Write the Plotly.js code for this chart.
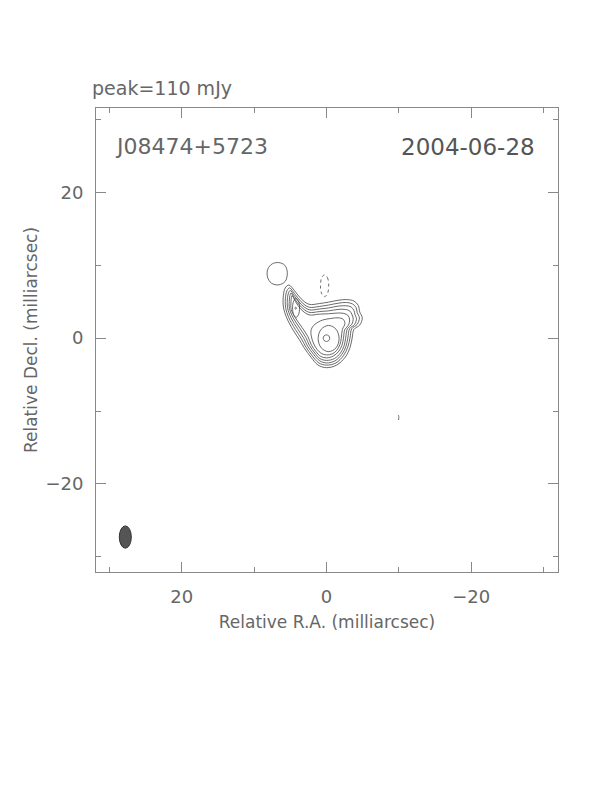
<!DOCTYPE html>
<html>
<head>
<meta charset="utf-8">
<script src="https://cdn.plot.ly/plotly-3.0.1.min.js"></script>
<style>html,body{margin:0;padding:0;background:#fff;}#chart{width:612px;height:792px;}</style>
</head>
<body>
<div id="chart"></div>
<script>
// Source / epoch / peak
const sourceName = "J08474+5723";
const epoch = "2004-06-28";
const peakLabel = "peak=110 mJy";

// Axis ticks (mas)
const xMajor = [20, 0, -20];
const xMinor = [30, 10, -10, -30];
const yMajor = [20, 0, -20];
const yMinor = [30, 10, -10, -30];

const lev1X = [5.2,4.4,3.5,2.4,1.0,-0.3,-1.6,-2.8,-3.8,-4.4,-4.6,-4.95,-4.6,-3.8,-3.55,-3.25,-2.6,-1.4,0.0,1.15,2.15,3.1,3.75,4.6,5.5,5.95,5.95,5.7,5.2];
const lev1Y = [7.3,6.5,5.4,4.65,4.75,4.95,5.2,5.3,5.1,4.5,3.6,2.8,1.8,1.2,0.0,-1.3,-2.6,-3.7,-4.05,-3.7,-2.6,-1.3,-0.2,1.1,2.8,4.3,5.9,6.9,7.3];

const lev2X = [5.1,4.4,3.5,2.4,1.0,-0.3,-1.6,-2.8,-3.6,-4.1,-4.25,-4.55,-4.25,-3.5,-3.25,-2.95,-2.35,-1.3,0.0,1.05,1.95,2.85,3.45,4.3,5.2,5.65,5.65,5.45,5.1];
const lev2Y = [6.9,6.1,5.0,4.25,4.35,4.55,4.8,4.9,4.7,4.2,3.5,2.8,1.9,1.3,0.0,-1.2,-2.4,-3.4,-3.7,-3.4,-2.45,-1.2,-0.1,1.2,2.8,4.25,5.75,6.55,6.9];

const lev3X = [5.0,4.4,3.5,2.4,1.0,-0.3,-1.6,-2.7,-3.4,-3.8,-3.95,-4.15,-3.9,-3.2,-2.95,-2.7,-2.15,-1.2,0.0,0.95,1.75,2.6,3.15,4.0,4.9,5.38,5.38,5.25,5.0];
const lev3Y = [6.55,5.75,4.65,3.9,4.0,4.15,4.4,4.45,4.3,3.8,3.2,2.7,1.9,1.3,0.0,-1.1,-2.2,-3.1,-3.4,-3.1,-2.25,-1.1,0.0,1.3,2.8,4.2,5.55,6.2,6.55];

const lev4X = [4.9,4.4,3.5,2.4,1.0,-0.3,-1.6,-2.6,-3.2,-3.55,-3.7,-3.5,-2.9,-2.65,-2.45,-1.95,-1.1,0.0,0.9,1.6,2.35,2.85,3.7,4.6,5.12,5.12,5.05,4.9];
const lev4Y = [6.2,5.4,4.3,3.55,3.65,3.75,3.95,3.95,3.75,3.2,2.6,1.9,1.3,0.0,-1.0,-2.0,-2.8,-3.05,-2.8,-2.05,-1.0,0.1,1.4,2.8,4.1,5.3,5.85,6.2];

const lev5X = [4.75,4.3,3.5,2.4,1.0,-0.3,-1.5,-2.4,-3.0,-3.2,-3.05,-2.55,-2.35,-2.15,-1.7,-0.95,0.0,0.8,1.45,2.1,2.55,3.4,4.3,4.88,4.9,4.85,4.75];
const lev5Y = [5.85,5.05,3.95,3.2,3.3,3.35,3.45,3.4,3.1,2.5,1.8,1.2,0.0,-0.95,-1.8,-2.45,-2.7,-2.5,-1.85,-0.9,0.2,1.5,2.8,3.95,5.05,5.55,5.85];

// Inner levels, north-east component
const lev6aX = [4.2,3.86,3.72,3.86,4.2,4.54,4.68,4.54,4.2];
const lev6aY = [5.45,5.07,4.15,3.23,2.85,3.23,4.15,5.07,5.45];
const lev7aX = [4.25,4.14,4.25,4.36,4.25];
const lev7aY = [4.26,4.12,3.98,4.12,4.26];

// Inner levels, core
const lev6bX = [1.6,0.5,-0.6,-1.6,-2.3,-2.55,-2.2,-2.05,-1.85,-1.4,-0.8,0.0,0.7,1.25,1.75,2.1,2.1,1.6];
const lev6bY = [1.9,2.5,2.7,2.8,2.6,2.0,1.2,0.0,-0.9,-1.7,-2.15,-2.3,-2.1,-1.6,-0.8,0.3,1.2,1.9];
const lev7bX = [-0.3,0.73,1.15,0.73,-0.3,-1.33,-1.75,-1.33,-0.3];
const lev7bY = [1.75,1.22,-0.05,-1.32,-1.85,-1.32,-0.05,1.22,1.75];
const lev8bX = [0.0,0.32,0.45,0.32,0.0,-0.32,-0.45,-0.32,0.0];
const lev8bY = [0.45,0.32,0.0,-0.32,-0.45,-0.32,0.0,0.32,0.45];

// Isolated positive island to the north-east
const islandX = [6.6,5.75,5.41,5.7,6.6,7.6,8.15,8.1,7.5,6.6];
const islandY = [10.38,10.0,9.0,7.8,7.32,7.55,8.4,9.5,10.2,10.38];

// Negative contours (dashed)
const negAX = [0.26,-0.14,-0.31,-0.14,0.26,0.66,0.83,0.66,0.26];
const negAY = [8.7,8.3,7.2,6.1,5.7,6.1,7.2,8.3,8.7];
const negBX = [-9.96,-10.0,-9.96,-9.92,-9.96];
const negBY = [-10.6,-10.9,-11.2,-10.9,-10.6];

// Restoring beam (centre x, centre y, half-width x, half-height y) in mas
const beamCenter = [27.8, -27.3];
const beamHalf = [0.83, 1.53];

const contourColor = "#444";
const posSets = [
  [lev1X, lev1Y], [lev2X, lev2Y], [lev3X, lev3Y], [lev4X, lev4Y], [lev5X, lev5Y],
  [lev6aX, lev6aY], [lev7aX, lev7aY], [lev6bX, lev6bY], [lev7bX, lev7bY], [lev8bX, lev8bY],
  [islandX, islandY]
];
const traces = posSets.map(function (s) {
  return {x: s[0], y: s[1], type: "scatter", mode: "lines", hoverinfo: "skip",
          line: {color: contourColor, width: 0.8, shape: "spline", smoothing: 1}, showlegend: false};
});
[[negAX, negAY], [negBX, negBY]].forEach(function (s) {
  traces.push({x: s[0], y: s[1], type: "scatter", mode: "lines", hoverinfo: "skip",
    line: {color: contourColor, width: 0.8, dash: "dot", shape: "spline", smoothing: 1}, showlegend: false});
});

const font = "DejaVu Sans, sans-serif";
const txt = "#666";
const axisCommon = {
  showgrid: false, zeroline: false, showline: true, linecolor: "#888", linewidth: 1,
  mirror: "ticks", ticks: "inside", ticklen: 10, tickcolor: "#888", tickwidth: 1,
  tickfont: {family: font, size: 18, color: txt}, ticklabelstandoff: 8
};

const layout = {
  width: 612, height: 792,
  margin: {l: 95.5, r: 53.7, t: 108.3, b: 220},
  paper_bgcolor: "#fff", plot_bgcolor: "#fff",
  showlegend: false,
  xaxis: Object.assign({}, axisCommon, {
    range: [31.85, -32.0], tickmode: "array", tickvals: xMajor,
    minor: {tickvals: xMinor, ticks: "inside", ticklen: 5, tickcolor: "#888", showgrid: false},
    title: {text: "Relative R.A. (milliarcsec)", font: {family: font, size: 17, color: txt}, standoff: 10}
  }),
  yaxis: Object.assign({}, axisCommon, {
    range: [-32.1, 31.6], tickmode: "array", tickvals: yMajor,
    minor: {tickvals: yMinor, ticks: "inside", ticklen: 5, tickcolor: "#888", showgrid: false},
    title: {text: "Relative Decl. (milliarcsec)", font: {family: font, size: 17, color: txt}, standoff: 3}
  }),
  shapes: [{
    type: "circle", xref: "x", yref: "y",
    x0: beamCenter[0] - beamHalf[0], x1: beamCenter[0] + beamHalf[0],
    y0: beamCenter[1] - beamHalf[1], y1: beamCenter[1] + beamHalf[1],
    fillcolor: "#555", line: {color: "#333", width: 1}
  }],
  annotations: [
    {text: peakLabel, xref: "paper", yref: "paper", x: -0.012, y: 1.044, xanchor: "left", yanchor: "middle",
     showarrow: false, font: {family: font, size: 19, color: txt}},
    {text: sourceName, xref: "paper", yref: "paper", x: 0.036, y: 0.9165, xanchor: "left", yanchor: "middle",
     showarrow: false, font: {family: font, size: 22, color: txt}},
    {text: epoch, xref: "paper", yref: "paper", x: 0.955, y: 0.9165, xanchor: "right", yanchor: "middle",
     showarrow: false, font: {family: font, size: 23, color: "#555"}}
  ]
};

Plotly.newPlot("chart", traces, layout, {staticPlot: true, displayModeBar: false});
</script>
</body>
</html>
